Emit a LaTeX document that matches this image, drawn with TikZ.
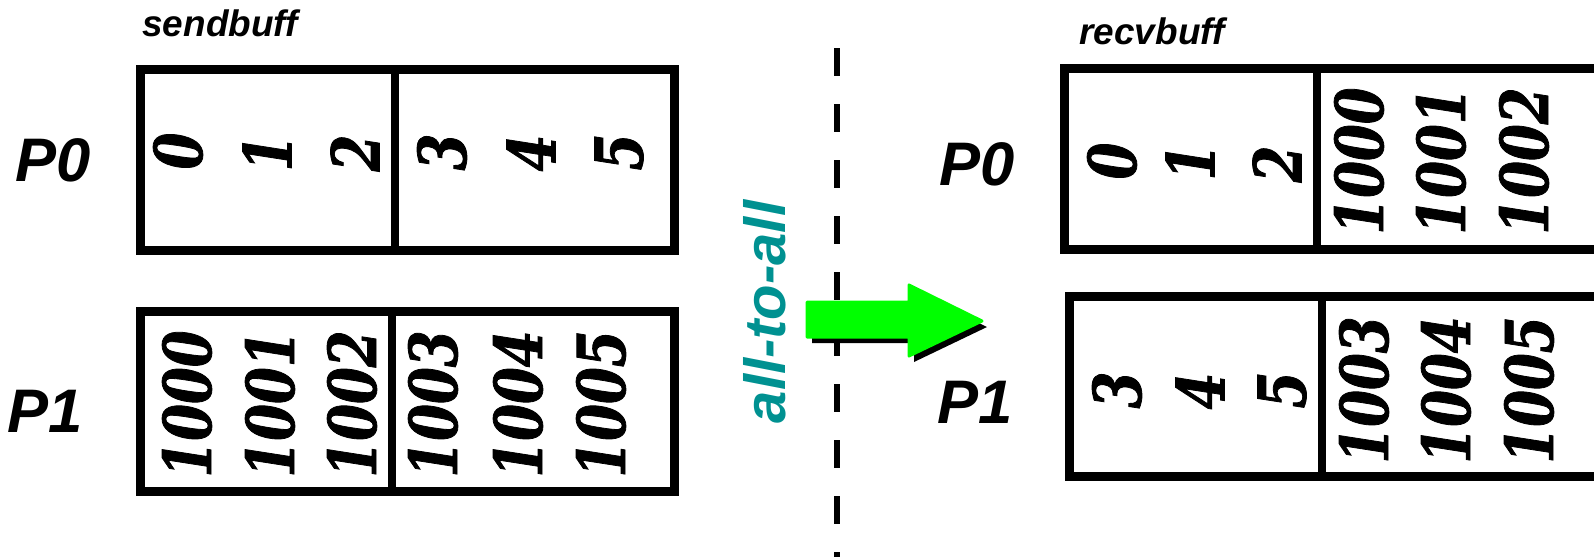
\documentclass[tikz,border=0pt]{standalone}
\usepackage{fontspec}
\usepackage{tikz}
\newfontfamily\lblfont{Liberation Sans}
\newfontfamily\numfont[FakeStretch=0.8, BoldItalicFeatures={FakeBold=1.2}]{DejaVu Serif}
\definecolor{atacolor}{RGB}{0,145,145}
\definecolor{arrgreen}{RGB}{0,255,0}

\begin{document}
\begin{tikzpicture}[x=0.1mm, y=-0.1mm,
  proc/.style={font=\lblfont\bfseries\itshape\fontsize{17.5}{20}\selectfont, inner sep=0pt},
  bufname/.style={font=\lblfont\bfseries\itshape\fontsize{10.5}{12}\selectfont, inner sep=0pt},
  num/.style={font=\numfont\bfseries\itshape\fontsize{18.8}{20}\selectfont, rotate=90, inner sep=0pt},
  frame/.style={draw=black, line width=0.9mm},
  split/.style={draw=black, line width=0.8mm},
  sepline/.style={draw=black, line width=0.65mm, dash pattern=on 2.8mm off 2.8mm},
  bigarr/.style={fill=arrgreen, draw=arrgreen, line width=0.3mm, line join=round}]
\useasboundingbox (0,0) rectangle (1594,556);
\clip (0,0) rectangle (1594,556);
% send side
\node[bufname] (sendlbl) at (220,23) {sendbuff};
\node[proc] (lp0) at (53,160) {P0};
\node[proc] (lp1) at (45,411) {P1};
\draw[frame] (140.5,69.5) rectangle (674,250);
\draw[split] (395,69.5) -- (395,250);
\draw[frame] (140,311) rectangle (674,491.5);
\draw[split] (392,311) -- (392,491.5);
\node[num] (s00) at (178,151) {0};
\node[num] (s01) at (267,153) {1};
\node[num] (s02) at (355,153) {2};
\node[num] (s03) at (442,152) {3};
\node[num] (s04) at (531,153) {4};
\node[num] (s05) at (619,152) {5};
\node[num] (s10) at (187,404) {1000};
\node[num] (s11) at (270,404) {1001};
\node[num] (s12) at (352,404) {1002};
\node[num] (s13) at (433,404) {1003};
\node[num] (s14) at (518,404) {1004};
\node[num] (s15) at (601,404) {1005};
% separator and operation
\coordinate (septop) at (837,48);
\coordinate (sepbot) at (837,580);
\draw[sepline] (septop) -- (sepbot);
\node[font=\lblfont\bfseries\itshape\fontsize{16.5}{18}\selectfont, text=atacolor,
  rotate=90, inner sep=0pt] (ata) at (765,312) {all-to-all};
\fill[black, shift={(5,6)}] (807,302) -- (909,302) -- (909,285) -- (982,321)
  -- (909,356) -- (909,337) -- (807,337) -- cycle;
\filldraw[bigarr] (807,302) -- (909,302) -- (909,285) -- (982,321)
  -- (909,356) -- (909,337) -- (807,337) -- cycle;
% receive side
\node[bufname] (recvlbl) at (1152,31) {recvbuff};
\node[proc] (rp0) at (977,164) {P0};
\node[proc] (rp1) at (975,402) {P1};
\draw[frame] (1064.5,68.5) rectangle (1640,249);
\draw[split] (1317,68.5) -- (1317,249);
\draw[frame] (1069.5,296.5) rectangle (1640,476.5);
\draw[split] (1322,296.5) -- (1322,476.5);
\node[num] (r00) at (1112,161) {0};
\node[num] (r01) at (1190,162) {1};
\node[num] (r02) at (1277,164) {2};
\node[num] (r03) at (1359,161) {1000};
\node[num] (r04) at (1441,161) {1001};
\node[num] (r05) at (1524,161) {1002};
\node[num] (r10) at (1117,390) {3};
\node[num] (r11) at (1200,391) {4};
\node[num] (r12) at (1282,390) {5};
\node[num] (r13) at (1364,390) {1003};
\node[num] (r14) at (1446,390) {1004};
\node[num] (r15) at (1529,390) {1005};
\end{tikzpicture}
\end{document}
